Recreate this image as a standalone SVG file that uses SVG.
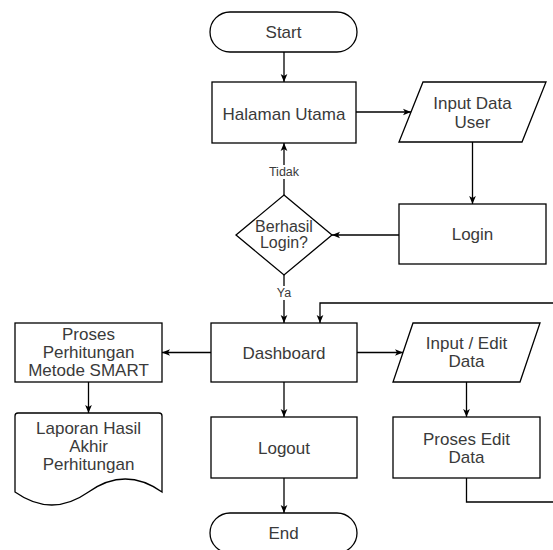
<svg xmlns="http://www.w3.org/2000/svg" width="553" height="550" viewBox="0 0 553 550">
<defs>
<marker id="arr" viewBox="0 0 10 10" refX="10" refY="5" markerWidth="8" markerHeight="8" markerUnits="userSpaceOnUse" orient="auto">
<path d="M0,0.8 L10,5 L0,9.2 L2.5,5 z" fill="#000"/>
</marker>
</defs>
<style>
.s{fill:#fff;stroke:#000;stroke-width:1.3}
.t{font-family:"Liberation Sans",Arial,sans-serif;font-size:17px;fill:#3a3a3a;text-anchor:middle}
.d{font-family:"Liberation Sans",Arial,sans-serif;font-size:16px;fill:#3a3a3a;text-anchor:middle}
.l{font-family:"Liberation Sans",Arial,sans-serif;font-size:12.5px;fill:#3a3a3a;text-anchor:middle}
.c{fill:none;stroke:#000;stroke-width:1.3}
</style>
<rect width="553" height="550" fill="#fff"/>
<g id="connectors">
<path class="c" d="M284,52 V82" marker-end="url(#arr)"/>
<path class="c" d="M356,112 H411" marker-end="url(#arr)"/>
<path class="c" d="M472.5,142 V204" marker-end="url(#arr)"/>
<path class="c" d="M399,235 H332" marker-end="url(#arr)"/>
<path class="c" d="M284,195 V143" marker-end="url(#arr)"/>
<path class="c" d="M284,275 V323" marker-end="url(#arr)"/>
<path class="c" d="M211,352.5 H162" marker-end="url(#arr)"/>
<path class="c" d="M88.5,382 V413" marker-end="url(#arr)"/>
<path class="c" d="M357,352.5 H403" marker-end="url(#arr)"/>
<path class="c" d="M466.5,382 V417" marker-end="url(#arr)"/>
<path class="c" d="M284,382 V417" marker-end="url(#arr)"/>
<path class="c" d="M284,478 V513" marker-end="url(#arr)"/>
<path class="c" d="M466.5,478 V502 H560 V303 H320 V323" marker-end="url(#arr)"/>
<rect x="266" y="165" width="36" height="14" fill="#fff"/>
<text class="l" x="284" y="176">Tidak</text>
<rect x="274" y="286" width="20" height="14" fill="#fff"/>
<text class="l" x="284" y="297">Ya</text>
</g>
<g id="start">
<rect class="s" x="210" y="12" width="147" height="40" rx="20" ry="20"/>
<text class="t" x="283.5" y="38">Start</text>
</g>
<g id="halaman-utama">
<rect class="s" x="212" y="82" width="144" height="61"/>
<text class="t" x="284" y="120">Halaman Utama</text>
</g>
<g id="input-data-user">
<polygon class="s" points="423,82 546,82 522,142 399,142"/>
<text class="t" x="472.5" y="109">Input Data<tspan x="472.5" dy="19">User</tspan></text>
</g>
<g id="login">
<rect class="s" x="399" y="204" width="147" height="60"/>
<text class="t" x="472.5" y="240">Login</text>
</g>
<g id="berhasil-login">
<polygon class="s" points="284,195 332,235 284,275 236,235"/>
<text class="d" x="284" y="232">Berhasil<tspan x="284" dy="16">Login?</tspan></text>
</g>
<g id="dashboard">
<rect class="s" x="211" y="323" width="146" height="59"/>
<text class="t" x="284" y="359">Dashboard</text>
</g>
<g id="proses-perhitungan">
<rect class="s" x="15" y="323" width="147" height="59"/>
<text class="t" x="88.5" y="340">Proses<tspan x="88.5" dy="18">Perhitungan</tspan><tspan x="88.5" dy="18">Metode SMART</tspan></text>
</g>
<g id="laporan">
<path class="s" d="M18,413 H159 Q162,413 162,416 V492 Q125.25,466 88.5,492 Q51.75,518 15,492 V416 Q15,413 18,413 Z"/>
<text class="t" x="88.5" y="434">Laporan Hasil<tspan x="88.5" dy="18">Akhir</tspan><tspan x="88.5" dy="18">Perhitungan</tspan></text>
</g>
<g id="input-edit-data">
<polygon class="s" points="413,323 540,323 520,382 393,382"/>
<text class="t" x="466.5" y="349">Input / Edit<tspan x="466.5" dy="18">Data</tspan></text>
</g>
<g id="proses-edit-data">
<rect class="s" x="393" y="417" width="147" height="61"/>
<text class="t" x="466.5" y="445">Proses Edit<tspan x="466.5" dy="18">Data</tspan></text>
</g>
<g id="logout">
<rect class="s" x="211" y="417" width="146" height="61"/>
<text class="t" x="284" y="454">Logout</text>
</g>
<g id="end">
<rect class="s" x="210" y="513" width="147" height="40" rx="20" ry="20"/>
<text class="t" x="283.5" y="539">End</text>
</g>
</svg>
